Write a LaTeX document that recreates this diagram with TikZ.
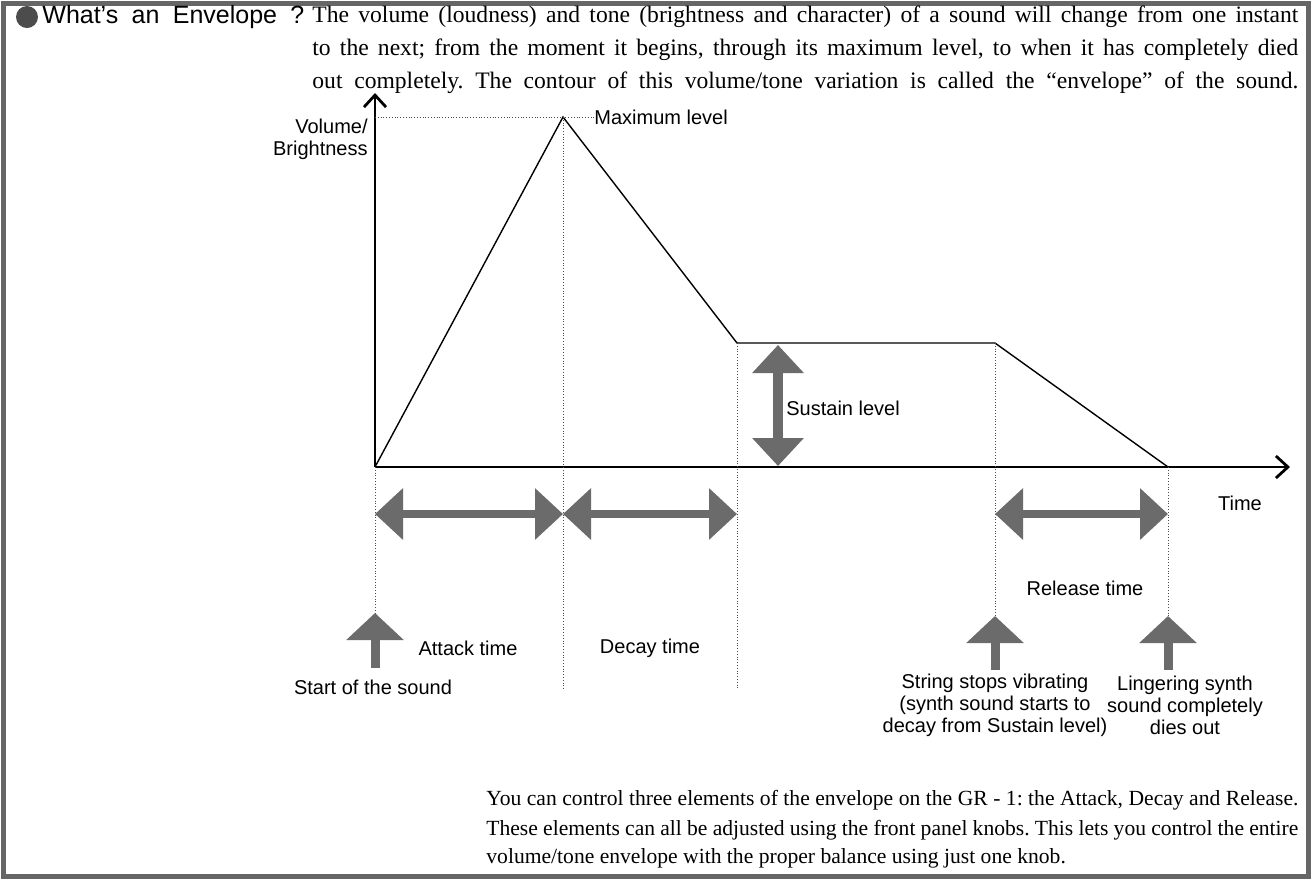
\documentclass[tikz,border=0pt]{standalone}
\usepackage{fontspec}
\setmainfont{Liberation Serif}
\setsansfont{Liberation Sans}
\usetikzlibrary{arrows.meta}
\frenchspacing

\begin{document}
\begin{tikzpicture}[x=0.5pt, y=-0.5pt,
  lbl/.style={font=\sffamily\fontsize{10}{11}\selectfont, inner sep=0pt, align=center},
  body/.style={font=\fontsize{11.8}{14}\selectfont, inner sep=0pt, anchor=west},
  tail/.style={font=\fontsize{10.8}{13}\selectfont, inner sep=0pt, anchor=west},
  guide/.style={densely dotted, line width=0.4pt, black!70},
  axis/.style={line width=1.4pt, -{Straight Barb[length=6pt,width=11pt]}},
  curve/.style={line width=0.7pt},
  fatarrow/.style={line width=4pt, black!58, {Triangle[length=14pt,width=25pt]}-{Triangle[length=14pt,width=25pt]}},
  uparrow/.style={line width=4.5pt, black!58, -{Triangle[length=13.5pt,width=28pt]}}]
  \useasboundingbox (0,0) rectangle (1313,880);
  \draw[black!60, line width=2.5pt] (3,3) rectangle (1308,876);

  % heading and opening paragraph
  \fill[black!70] (27,17) circle (5.5pt);
  \node[anchor=west, inner sep=0pt, font=\sffamily\fontsize{12.5}{14}\selectfont] (title) at (42,17)
    {\makebox[131pt][s]{What’s an Envelope ?}};
  \node[body] (intro1) at (312,17) {\makebox[493pt][s]{The volume (loudness) and tone (brightness and character) of a sound will change from one instant}};
  \node[body] (intro2) at (312,50) {\makebox[493pt][s]{to the next; from the moment it begins, through its maximum level, to when it has completely died}};
  \node[body] (intro3) at (312,83) {\makebox[493pt][s]{out completely. The contour of this volume/tone variation is called the “envelope” of the sound.}};

  % axes and envelope
  \coordinate (o) at (375,467);
  \coordinate (ytip) at (375,93);
  \coordinate (xtip) at (1290,467);
  \coordinate (peak) at (563,117);
  \coordinate (sus) at (737,343);
  \coordinate (rel) at (995,343);
  \coordinate (end) at (1168,467);
  \draw[axis] (o) -- (ytip);
  \draw[axis] (o) -- (xtip);
  \draw[curve] (o) -- (peak) -- (sus) -- (rel) -- (end);

  \node[lbl, anchor=west] (maxlbl) at (594,117) {Maximum level};
  \draw[guide] (o |- peak) -- (maxlbl.west);
  \node[lbl, anchor=east, align=right] (ylbl) at (368,139) {Volume/\\Brightness};

  % guide lines down to the time arrows
  \coordinate (row) at (0,514);
  \coordinate (s1tip) at (375,613);
  \coordinate (s1) at (375,668);
  \coordinate (s2tip) at (995,616);
  \coordinate (s2) at (995,670);
  \coordinate (s3tip) at (1168,616);
  \coordinate (s3) at (1168,670);
  \coordinate (peakfoot) at (563,690);
  \coordinate (susfoot) at (737,690);
  \draw[guide] (o) -- (s1tip);
  \draw[guide] (peak) -- (peakfoot);
  \draw[guide] (sus) -- (susfoot);
  \draw[guide] (rel) -- (s2tip);
  \draw[guide] (end) -- (s3tip);

  % time spans
  \draw[fatarrow] (o |- row) -- (peak |- row);
  \draw[fatarrow] (peak |- row) -- (sus |- row);
  \draw[fatarrow] (rel |- row) -- (end |- row);
  \coordinate (sustop) at (778,345);
  \coordinate (susbot) at (778,466);
  \draw[fatarrow, line width=5pt] (sustop) -- (susbot);
  \node[lbl, anchor=west] (suslbl) at (786,408) {Sustain level};
  \node[lbl] (timelbl) at (1240,503) {Time};
  \node[lbl] (attlbl) at (468,648) {Attack time};
  \node[lbl] (declbl) at (650,648) {Decay time};
  \node[lbl] (rellbl) at (1085,588) {Release time};

  % events
  \draw[uparrow] (s1) -- (s1tip);
  \draw[uparrow] (s2) -- (s2tip);
  \draw[uparrow] (s3) -- (s3tip);
  \node[lbl] (startlbl) at (373,687) {Start of the sound};
  \node[lbl] (stoplbl) at (995,705) {String stops vibrating\\(synth sound starts to\\decay from Sustain level)};
  \node[lbl] (dielbl) at (1185,705) {Lingering synth\\sound completely\\dies out};

  % closing paragraph
  \node[tail] (outro1) at (486,800) {\makebox[406pt][s]{You can control three elements of the envelope on the GR - 1: the Attack, Decay and Release.}};
  \node[tail] (outro2) at (486,830) {\makebox[406pt][s]{These elements can all be adjusted using the front panel knobs. This lets you control the entire}};
  \node[tail] (outro3) at (486,858) {volume/tone envelope with the proper balance using just one knob.};
\end{tikzpicture}
\end{document}
